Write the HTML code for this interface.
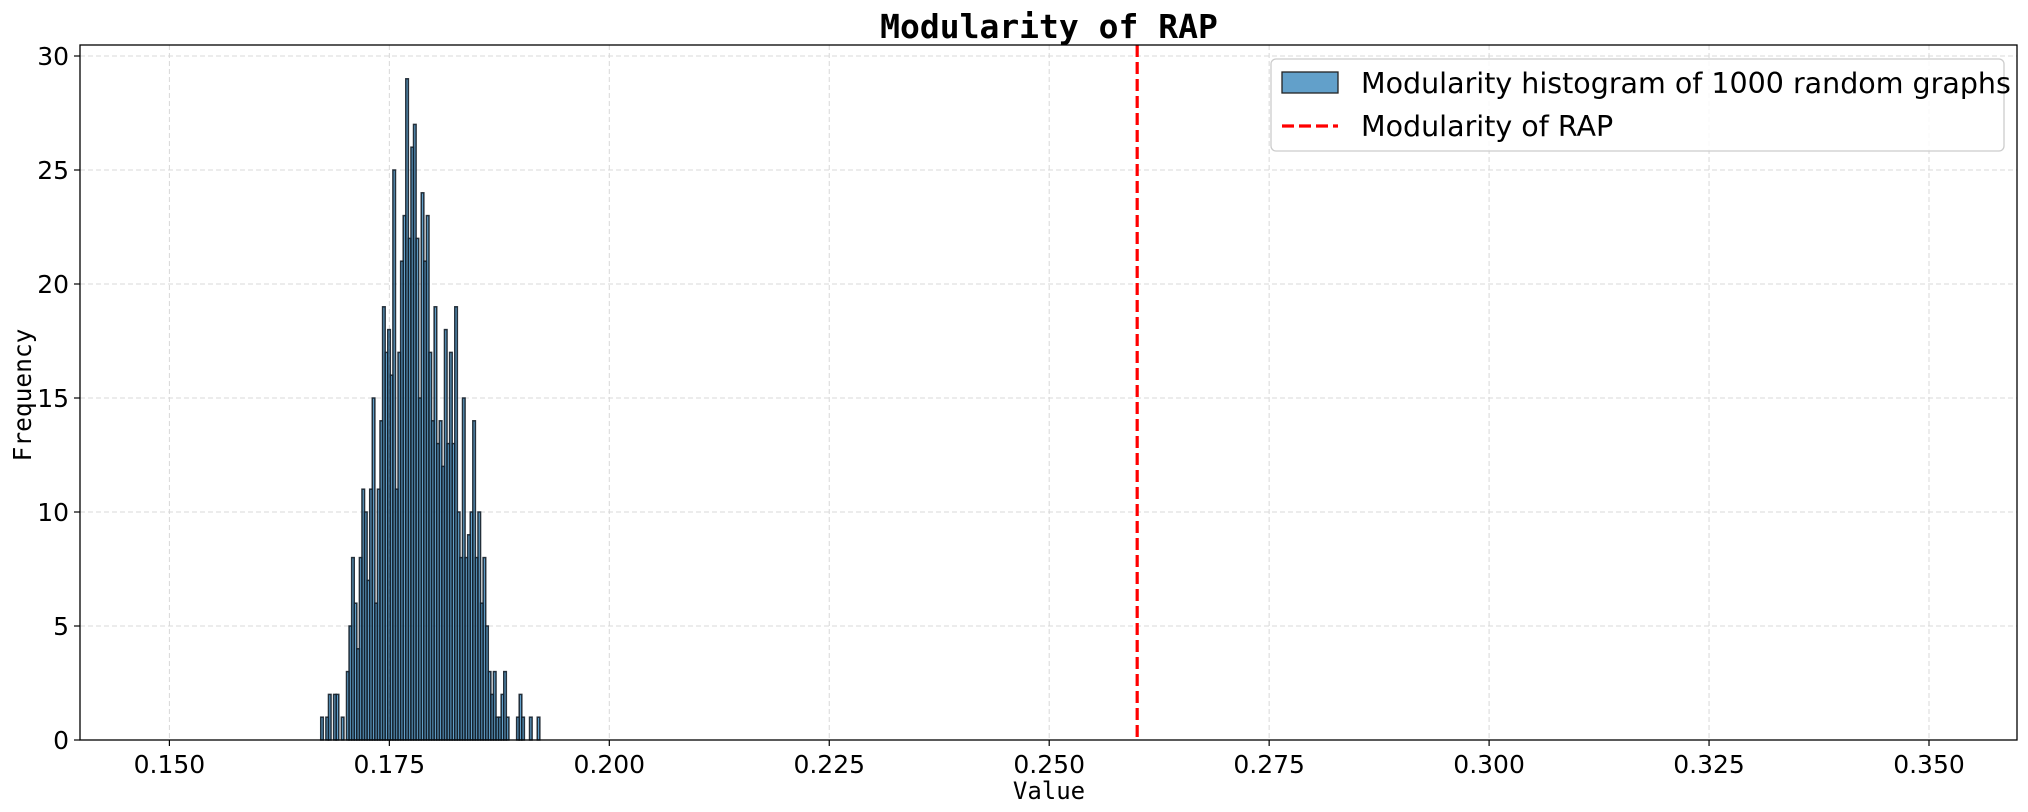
<!DOCTYPE html>
<html><head><meta charset="utf-8"><style>
html,body{margin:0;padding:0;background:#fff;}
svg{display:block;}
</style></head><body>
<svg id="chart" width="2028" height="812" xmlns="http://www.w3.org/2000/svg">
<rect width="2028" height="812" fill="#fff"/>
<text x="1049" y="38" text-anchor="middle" font-family="DejaVu Sans Mono, Liberation Mono, monospace" font-weight="bold" font-size="33">Modularity of RAP</text>
<g id="grid"></g>
<g id="bars"></g>
<g id="axes"></g>
</svg>
<script>
const binStart = 0.1672;
const binWidth = 0.000293;
const counts = [1,0,1,2,0,2,2,0,1,0,3,5,8,6,4,8,11,10,7,11,15,6,11,14,19,17,18,16,25,11,17,21,23,29,22,26,27,22,15,24,21,23,17,14,19,13,14,12,18,13,17,13,19,10,8,15,8,9,10,14,8,10,6,8,5,3,2,3,1,1,2,3,1,0,0,0,1,2,1,0,0,1,0,0,1];
const xTicks = [0.150,0.175,0.200,0.225,0.250,0.275,0.300,0.325,0.350];
const xTickLabels = ["0.150","0.175","0.200","0.225","0.250","0.275","0.300","0.325","0.350"];
const yTicks = [0,5,10,15,20,25,30];
const rapValue = 0.26;

const L=80,R=2017,T=45,B=740;
function xs(v){return 169.4+(v-0.150)*(219.95/0.025);}
function ys(v){return B-v*22.8;}
const NS="http://www.w3.org/2000/svg";
function mk(tag,attrs,parent){const e=document.createElementNS(NS,tag);for(const k in attrs)e.setAttribute(k,attrs[k]);parent.appendChild(e);return e;}
const grid=document.getElementById('grid'),bars=document.getElementById('bars'),axes=document.getElementById('axes');

xTicks.forEach((t,i)=>{
  const g=mk('line',{x1:xs(t),x2:xs(t),y1:T,y2:B,stroke:'#d8d8d8','stroke-width':1,'stroke-dasharray':'5,3'},grid);
  
  
  const tk=mk('line',{x1:xs(t),x2:xs(t),y1:B,y2:B+6,stroke:'#000','stroke-width':1.2},axes);
  
  
  const tx=mk('text',{x:xs(t),y:B+33,'text-anchor':'middle','font-family':'DejaVu Sans, Liberation Sans, sans-serif','font-size':25},axes);
  tx.textContent=xTickLabels[i];
  
  
});
yTicks.forEach(t=>{
  const g=mk('line',{x1:L,x2:R,y1:ys(t),y2:ys(t),stroke:'#d8d8d8','stroke-width':1,'stroke-dasharray':'5,3'},grid);
  
  
  const tk=mk('line',{x1:L-6,x2:L,y1:ys(t),y2:ys(t),stroke:'#000','stroke-width':1.2},axes);
  
  
  const tx=mk('text',{x:L-11,y:ys(t)+9,'text-anchor':'end','font-family':'DejaVu Sans, Liberation Sans, sans-serif','font-size':25},axes);
  tx.textContent=String(t);
  
  
});

counts.forEach((c,i)=>{
  if(!c)return;
  const x0=xs(binStart+i*binWidth),x1=xs(binStart+(i+1)*binWidth);
  const r=mk('rect',{x:x0,y:ys(c),width:x1-x0,height:B-ys(c),fill:'rgba(31,119,180,0.7)',stroke:'rgba(20,30,40,0.9)','stroke-width':1.5},bars);
  
  
});

const rl=mk('line',{x1:xs(rapValue),x2:xs(rapValue),y1:T,y2:B,stroke:'#ff0000','stroke-width':3.2,'stroke-dasharray':'12,5'},axes);



const frame=mk('rect',{x:L,y:T,width:R-L,height:B-T,fill:'none',stroke:'#000','stroke-width':1.3},axes);



const xl=mk('text',{x:1049,y:799,'text-anchor':'middle','font-family':'DejaVu Sans Mono, Liberation Mono, monospace','font-size':24},axes);
xl.textContent='Value';


const yl=mk('text',{x:0,y:0,'text-anchor':'middle','font-family':'DejaVu Sans Mono, Liberation Mono, monospace','font-size':24.5,transform:'translate(31,395) rotate(-90)'},axes);
yl.textContent='Frequency';



const lg=mk('g',{},axes);


mk('rect',{x:1271,y:59,width:733,height:92,rx:5,fill:'rgba(255,255,255,0.85)',stroke:'#ccc','stroke-width':1.3},lg);
const sw=mk('rect',{x:1282,y:72,width:56,height:21,fill:'rgba(31,119,180,0.7)',stroke:'#222','stroke-width':1.3},lg);


const t1=mk('text',{x:1361,y:93,'font-family':'DejaVu Sans, Liberation Sans, sans-serif','font-size':28.5},lg);
t1.textContent='Modularity histogram of 1000 random graphs';


const ll=mk('line',{x1:1282,x2:1338,y1:126,y2:126,stroke:'#ff0000','stroke-width':3.2,'stroke-dasharray':'12,5'},lg);


const t2=mk('text',{x:1361,y:136,'font-family':'DejaVu Sans, Liberation Sans, sans-serif','font-size':28.5},lg);
t2.textContent='Modularity of RAP';


</script>
</body></html>
